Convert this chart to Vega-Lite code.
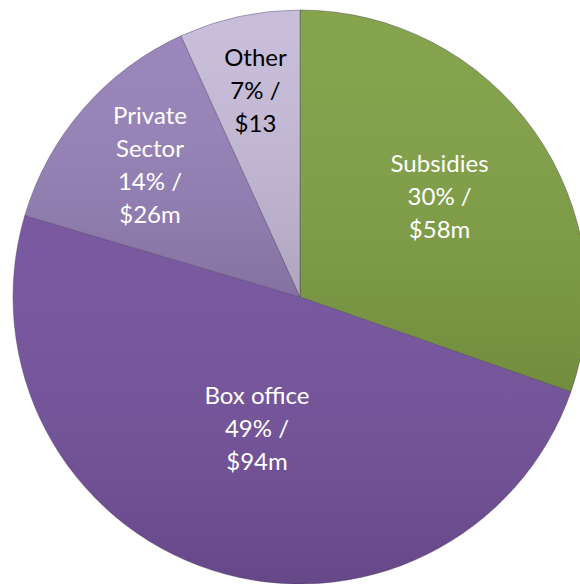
{
  "$schema": "https://vega.github.io/schema/vega-lite/v6.json",
  "autosize": {"type": "none"},
  "width": 600,
  "height": 594,
  "padding": 0,
  "background": "#ffffff",
  "config": {"view": {"stroke": null}},
  "data": {
    "values": [
      {"category": "Subsidies", "value": 58, "order": 1, "label": "Subsidies\n30% /\n$58m"},
      {"category": "Box office", "value": 94, "order": 2, "label": "Box office\n49% /\n$94m"},
      {"category": "Private Sector", "value": 26, "order": 3, "label": "Private\nSector\n14% /\n$26m"},
      {"category": "Other", "value": 13, "order": 4, "label": "Other\n7% /\n$13"}
    ]
  },
  "encoding": {
    "theta": {"field": "value", "type": "quantitative", "stack": true},
    "order": {"field": "order", "type": "quantitative"}
  },
  "layer": [
    {
      "mark": {"type": "arc", "outerRadius": 287, "stroke": "#4a3a60", "strokeWidth": 0.8, "strokeOpacity": 0.5},
      "encoding": {
        "color": {
          "field": "category", "type": "nominal",
          "scale": {"domain": ["Subsidies", "Box office", "Private Sector", "Other"], "range": ["#80a045", "#74529c", "#9681b8", "#c6bbd9"]},
          "legend": null
        }
      }
    },
    {
      "mark": {"type": "arc", "outerRadius": 287, "fill": {"gradient": "linear", "x1": 0, "y1": 0, "x2": 0, "y2": 1, "stops": [{"offset": 0, "color": "rgba(255,255,255,0.04)"}, {"offset": 1, "color": "rgba(0,0,0,0.12)"}]}}
    },
    {
      "mark": {"type": "text", "dy": -33, "fontSize": 24, "font": "Lato", "lineBreak": "\n", "lineHeight": 33, "align": "center", "baseline": "middle"},
      "encoding": {
        "radius": {"field": "value", "type": "quantitative", "scale": {"type": "linear", "zero": false, "domain": [13, 94], "range": [210, 140]}},
        "text": {"condition": {"test": "datum.category !== 'Private Sector'", "field": "label", "type": "nominal"}, "value": ""},
        "color": {
          "field": "category", "type": "nominal",
          "scale": {"domain": ["Subsidies", "Box office", "Private Sector", "Other"], "range": ["#ffffff", "#ffffff", "#ffffff", "#000000"]},
          "legend": null
        }
      }
    },
    {
      "mark": {"type": "text", "dy": -49.5, "fontSize": 24, "font": "Lato", "lineBreak": "\n", "lineHeight": 33, "align": "center", "baseline": "middle", "color": "#ffffff"},
      "encoding": {
        "radius": {"field": "value", "type": "quantitative", "scale": {"type": "linear", "zero": false, "domain": [13, 94], "range": [210, 140]}},
        "text": {"condition": {"test": "datum.category === 'Private Sector'", "field": "label", "type": "nominal"}, "value": ""}
      }
    }
  ],
  "resolve": {"scale": {"color": "independent"}}
}
